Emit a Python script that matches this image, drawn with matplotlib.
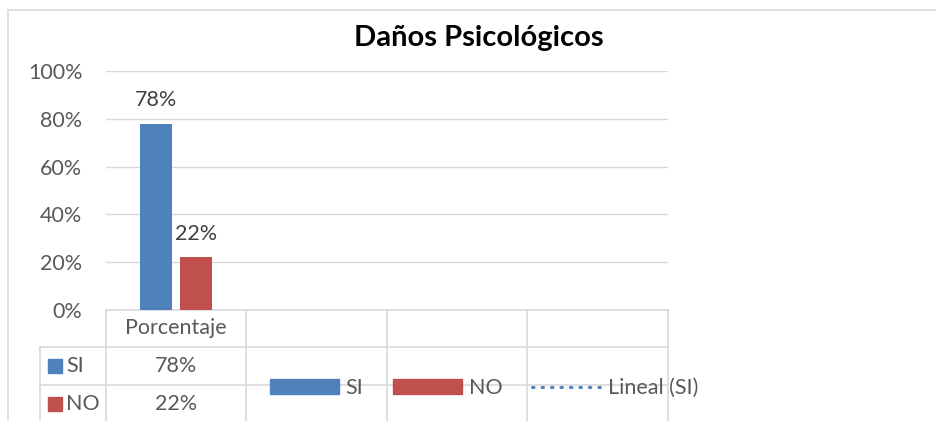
import numpy as np
import matplotlib.pyplot as plt
from matplotlib.patches import Patch, Rectangle
from matplotlib.lines import Line2D
from matplotlib.ticker import PercentFormatter

plt.rcParams['font.family'] = ['Lato', 'DejaVu Sans']

# datos
categorias = ['Porcentaje', '', '', '']
series = ['SI', 'NO']
valores_si = [78, np.nan, np.nan, np.nan]
valores_no = [22, np.nan, np.nan, np.nan]
etiquetas_tabla = ['78%', '22%']
colores = ['#4F81BD', '#C0504D']
titulo = 'Daños Psicológicos'

W, H = 937, 421
fig = plt.figure(figsize=(W / 100, H / 100), dpi=100)
gris = '#D9D9D9'
texto = '#595959'
fs = 15.5

# marco exterior del grafico
fig.add_artist(Rectangle((8 / W, -0.1), 1.2, 1 - 10 / H + 0.1, transform=fig.transFigure,
                         fill=False, edgecolor=gris, lw=1.2))

ax = fig.add_axes([106 / W, 1 - 310 / H, (668 - 106) / W, (310 - 71) / H])
x = np.arange(len(categorias))
ancho = 0.228
sep = 0.057
b1 = ax.bar(x - (ancho + sep) / 2, valores_si, ancho, color=colores[0], zorder=3)
b2 = ax.bar(x + (ancho + sep) / 2, valores_no, ancho, color=colores[1], zorder=3)

for barras in (b1, b2):
    for r in barras:
        h = r.get_height()
        if np.isnan(h):
            continue
        ax.annotate(f'{h:.0f}%', (r.get_x() + r.get_width() / 2, h), xytext=(0, 17),
                    textcoords='offset points', ha='center', va='center',
                    fontsize=fs, color='#404040')

ax.set_xlim(-0.5, len(categorias) - 0.5)
ax.set_ylim(0, 100)
ax.set_yticks(np.arange(0, 101, 20))
ax.yaxis.set_major_formatter(PercentFormatter(decimals=0))
ax.tick_params(axis='y', length=0, labelsize=fs, labelcolor=texto, pad=17)
ax.set_xticks([])
ax.grid(axis='y', color=gris, lw=1.0, zorder=0)
for s in ax.spines.values():
    s.set_visible(False)

ax.set_title(titulo, fontsize=21, fontweight='bold', color='black',
             x=(479 - 106) / (668 - 106), pad=18)

# tabla de datos
px = 1 / (310 - 71)
filas = [0, -(347 - 310) * px, -(385 - 310) * px, -(421 - 310) * px - 0.05]
x_izq = -0.5 - 66 / 140.5
trans = ax.get_xaxis_transform()
lkw = dict(color=gris, lw=1.2, transform=trans, clip_on=False)
ax.add_line(Line2D([-0.5, 3.5], [filas[0]] * 2, **lkw))
ax.add_line(Line2D([x_izq, 3.5], [filas[1]] * 2, **lkw))
ax.add_line(Line2D([x_izq, 3.5], [filas[2]] * 2, **lkw))
ax.add_line(Line2D([x_izq, x_izq], [filas[1], filas[3]], **lkw))
for xv in np.arange(-0.5, len(categorias)):
    ax.add_line(Line2D([xv, xv], [filas[0], filas[3]], **lkw))

for i, c in enumerate(categorias):
    ax.text(x[i], (filas[0] + filas[1]) / 2, c, transform=trans, ha='center', va='center',
            fontsize=fs, color=texto)
for j, (serie, col) in enumerate(zip(series, colores)):
    ym = (filas[j + 1] + filas[j + 2]) / 2 if j == 0 else -(404 - 310) * px
    ax.add_patch(Rectangle((x_izq + 8 / 140.5, ym - 7 * px), 14 / 140.5, 14 * px,
                           transform=trans, color=col, clip_on=False))
    ax.text(x_izq + 26 / 140.5, ym, serie, transform=trans, ha='left', va='center',
            fontsize=fs, color=texto)
    ax.text(x[0], ym, etiquetas_tabla[j], transform=trans, ha='center', va='center',
            fontsize=fs, color=texto)

handles = [Patch(color=colores[0]), Patch(color=colores[1]),
           Line2D([], [], ls=(0, (0.5, 2.6)), color=colores[0], lw=2.2,
                  dash_capstyle='round')]
fig.legend(handles, ['SI', 'NO', 'Lineal (SI)'], loc='center',
           bbox_to_anchor=(484 / W, 1 - 388 / H), ncol=3, frameon=False,
           fontsize=fs, labelcolor=texto, handlelength=3.2, handleheight=0.65,
           handletextpad=0.3, columnspacing=1.4)

fig.savefig('out.png', dpi=100)
